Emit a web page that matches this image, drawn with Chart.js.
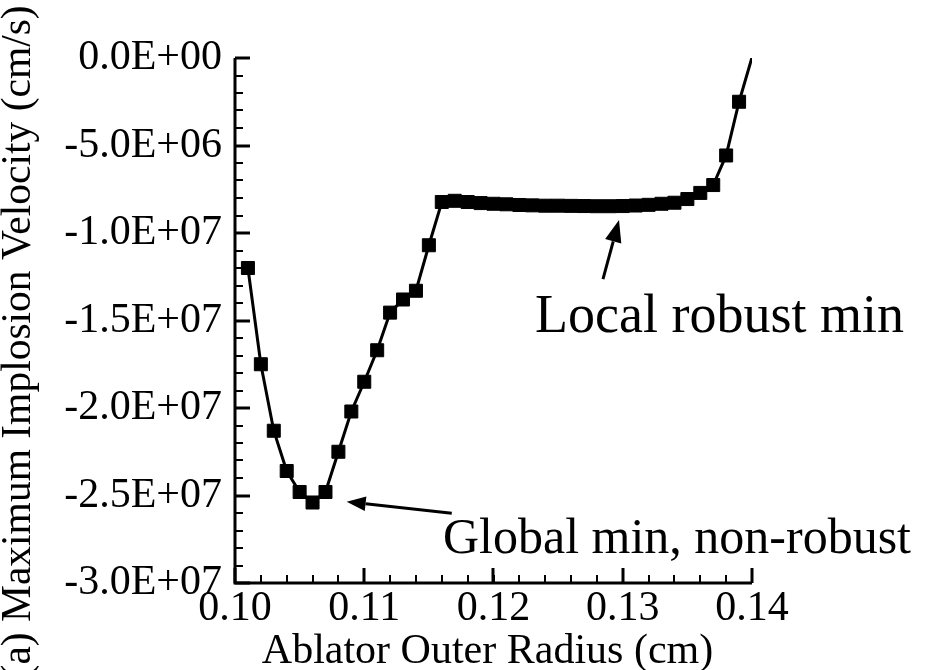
<!DOCTYPE html>
<html>
<head>
<meta charset="utf-8">
<script src="https://cdn.jsdelivr.net/npm/chart.js@4.4.1/dist/chart.umd.min.js"></script>
<style>
  html, body { margin: 0; padding: 0; background: #ffffff; }
  #wrap { width: 930px; height: 670px; }
</style>
</head>
<body>
<div id="wrap"><canvas id="c" width="930" height="670"></canvas></div>
<script>
// Ablator outer radius (cm) of each simulated design
const radius = [
  0.101, 0.102, 0.103, 0.104, 0.105, 0.106, 0.107, 0.108, 0.109, 0.110,
  0.111, 0.112, 0.113, 0.114, 0.115, 0.116, 0.117, 0.118, 0.119, 0.120,
  0.121, 0.122, 0.123, 0.124, 0.125, 0.126, 0.127, 0.128, 0.129, 0.130,
  0.131, 0.132, 0.133, 0.134, 0.135, 0.136, 0.137, 0.138, 0.139, 0.1405
];
// Maximum implosion velocity (cm/s) for each radius
const velocity = [
  -1.20e7, -1.75e7, -2.13e7, -2.36e7, -2.48e7, -2.54e7, -2.48e7, -2.25e7, -2.02e7, -1.85e7,
  -1.67e7, -1.455e7, -1.38e7, -1.33e7, -1.07e7, -8.23e6, -8.16e6, -8.23e6, -8.29e6, -8.33e6,
  -8.36e6, -8.40e6, -8.42e6, -8.44e6, -8.44e6, -8.45e6, -8.46e6, -8.47e6, -8.47e6, -8.46e6,
  -8.43e6, -8.39e6, -8.33e6, -8.27e6, -8.06e6, -7.71e6, -7.26e6, -5.57e6, -2.50e6, 1.3e6
];
// Axis ticks and their labels
const xTickValues = [0.10, 0.11, 0.12, 0.13, 0.14];
const xTickLabels = ['0.10', '0.11', '0.12', '0.13', '0.14'];
const yTickValues = [0, -5e6, -1e7, -1.5e7, -2e7, -2.5e7, -3e7];
const yTickLabels = ['0.0E+00', '-5.0E+06', '-1.0E+07', '-1.5E+07', '-2.0E+07', '-2.5E+07', '-3.0E+07'];
const xMinorStep = 0.002;
const yMinorStep = 1e6;
const xTitle = 'Ablator Outer Radius (cm)';
const yTitle = 'Maximum Implosion Velocity (cm/s)';
const yTitlePrefix = '(a) ';

// Callouts, placed in data coordinates
const callouts = [
  { text: 'Local robust min', size: 54, tx: 0.12321, ty: -1.486e7,
    from: [0.12847, -1.263e7], to: [0.12971, -9.26e6], head: 22 },
  { text: 'Global min, non-robust', size: 50, tx: 0.11609, ty: -2.754e7,
    from: [0.11677, -2.602e7], to: [0.10864, -2.535e7], head: 19 }
];

const SERIF = '"Liberation Serif", "Times New Roman", serif';

function arrow(ctx, x0, y0, x1, y1, head) {
  const a = Math.atan2(y1 - y0, x1 - x0);
  const bx = x1 - head * Math.cos(a), by = y1 - head * Math.sin(a);
  ctx.beginPath();
  ctx.moveTo(x0, y0);
  ctx.lineTo(bx, by);
  ctx.lineWidth = 3;
  ctx.stroke();
  const w = head * 0.38;
  ctx.beginPath();
  ctx.moveTo(x1, y1);
  ctx.lineTo(bx + w * Math.sin(a), by - w * Math.cos(a));
  ctx.lineTo(bx - w * Math.sin(a), by + w * Math.cos(a));
  ctx.closePath();
  ctx.fill();
}

const frame = {
  id: 'frame',
  afterDraw(chart) {
    const ctx = chart.ctx;
    const xs = chart.scales.x, ys = chart.scales.y;
    const area = chart.chartArea;
    ctx.save();
    ctx.strokeStyle = '#000';
    ctx.fillStyle = '#000';
    ctx.lineCap = 'butt';

    // axis lines
    ctx.lineWidth = 3;
    ctx.beginPath();
    ctx.moveTo(area.left, area.top);
    ctx.lineTo(area.left, area.bottom + 1.5);
    ctx.moveTo(area.left - 1.5, area.bottom);
    ctx.lineTo(area.right, area.bottom);
    ctx.stroke();

    // minor ticks (inward)
    ctx.lineWidth = 2;
    ctx.beginPath();
    for (let v = xs.min; v <= xs.max + 1e-9; v += xMinorStep) {
      const px = Math.round(xs.getPixelForValue(v));
      ctx.moveTo(px, area.bottom);
      ctx.lineTo(px, area.bottom - 8);
    }
    for (let v = ys.min; v <= ys.max + 1; v += yMinorStep) {
      const py = Math.round(ys.getPixelForValue(v));
      ctx.moveTo(area.left, py);
      ctx.lineTo(area.left + 8, py);
    }
    ctx.stroke();

    // major ticks (inward)
    ctx.lineWidth = 3;
    ctx.beginPath();
    xTickValues.forEach(v => {
      const px = Math.round(xs.getPixelForValue(v));
      ctx.moveTo(px, area.bottom);
      ctx.lineTo(px, area.bottom - 15);
    });
    yTickValues.forEach(v => {
      const py = Math.round(ys.getPixelForValue(v));
      ctx.moveTo(area.left, py);
      ctx.lineTo(area.left + 15, py);
    });
    ctx.stroke();

    // tick labels
    ctx.font = '42px ' + SERIF;
    ctx.textAlign = 'center';
    ctx.textBaseline = 'middle';
    xTickValues.forEach((v, i) => {
      ctx.fillText(xTickLabels[i], xs.getPixelForValue(v), area.bottom + 26);
    });
    ctx.textAlign = 'right';
    yTickValues.forEach((v, i) => {
      ctx.fillText(yTickLabels[i], area.left - 13, ys.getPixelForValue(v));
    });

    // axis titles
    ctx.textAlign = 'center';
    ctx.fillText(xTitle, (area.left + area.right) / 2 - 6, area.bottom + 69);
    ctx.save();
    ctx.font = '41.5px ' + SERIF;
    ctx.translate(19, 622);
    ctx.rotate(-Math.PI / 2);
    ctx.textAlign = 'left';
    ctx.fillText(yTitle, 0, 0);
    ctx.textAlign = 'right';
    ctx.fillText(yTitlePrefix, 0, 0);
    ctx.restore();

    // callouts
    ctx.textAlign = 'left';
    ctx.textBaseline = 'middle';
    callouts.forEach(c => {
      ctx.font = c.size + 'px ' + SERIF;
      ctx.fillText(c.text, xs.getPixelForValue(c.tx), ys.getPixelForValue(c.ty));
      arrow(ctx,
        xs.getPixelForValue(c.from[0]), ys.getPixelForValue(c.from[1]),
        xs.getPixelForValue(c.to[0]), ys.getPixelForValue(c.to[1]), c.head);
    });
    ctx.restore();
  }
};

new Chart(document.getElementById('c'), {
  type: 'scatter',
  data: {
    datasets: [{
      data: radius.map((r, i) => ({ x: r, y: velocity[i] })),
      showLine: true,
      tension: 0,
      borderColor: '#000',
      borderWidth: 3,
      pointStyle: 'rect',
      pointRadius: 9.2,
      pointBorderWidth: 1,
      pointBackgroundColor: '#000',
      pointBorderColor: '#000',
      clip: 0
    }]
  },
  options: {
    responsive: false,
    devicePixelRatio: 1,
    animation: false,
    layout: { padding: { left: 235, top: 58, right: 178, bottom: 87 } },
    plugins: { legend: { display: false }, tooltip: { enabled: false } },
    scales: {
      x: { type: 'linear', min: 0.10, max: 0.14, display: false },
      y: { type: 'linear', min: -3e7, max: 0, display: false }
    }
  },
  plugins: [frame]
});
</script>
</body>
</html>
